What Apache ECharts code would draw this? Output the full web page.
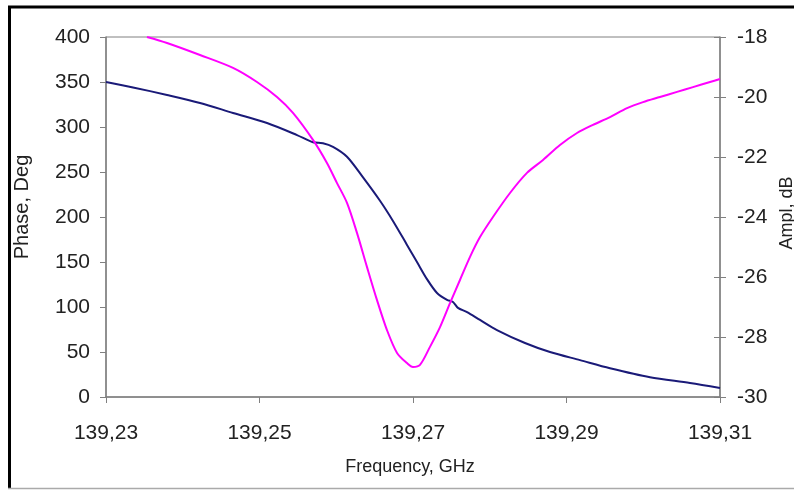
<!DOCTYPE html>
<html>
<head>
<meta charset="utf-8">
<script src="https://cdn.jsdelivr.net/npm/echarts@6/dist/echarts.min.js"></script>
<style>html,body{margin:0;padding:0;background:#fff;}#c{width:794px;height:490px;}</style>
</head>
<body>
<div id="c"></div>
<script>
// Phase (left axis), Deg
const freqPhase = [139.23000,139.23352,139.23795,139.24225,139.24655,139.25098,139.25489,139.25697,139.25827,139.25958,139.26140,139.26349,139.26570,139.26739,139.26922,139.27052,139.27182,139.27313,139.27443,139.27521,139.27586,139.27704,139.27873,139.28094,139.28459,139.28785,139.29176,139.29567,139.30088,139.30609,139.31000];
const phaseDeg  = [350,344,335.6,326.7,315.6,304.4,291,283,282,278,267,244,218,195.6,169,150,131,115.6,108,105.6,99,94.4,85.6,74.4,60,50,41,32,22,15.6,10];
// Amplitude (right axis), dB
const freqAmpl = [139.23534,139.23795,139.24225,139.24655,139.24967,139.25228,139.25436,139.25697,139.25879,139.26010,139.26140,139.26270,139.26401,139.26531,139.26661,139.26792,139.26922,139.27000,139.27091,139.27221,139.27352,139.27482,139.27612,139.27743,139.27873,139.28042,139.28264,139.28485,139.28694,139.28915,139.29137,139.29345,139.29567,139.29789,139.29997,139.30218,139.30440,139.30648,139.30870,139.31000];
const amplDb   = [-18.0,-18.2,-18.6,-19.03,-19.5,-20.0,-20.53,-21.43,-22.2,-22.87,-23.53,-24.53,-25.67,-26.77,-27.77,-28.53,-28.87,-29.0,-28.93,-28.33,-27.67,-26.87,-26.1,-25.33,-24.67,-24.0,-23.2,-22.53,-22.1,-21.6,-21.2,-20.93,-20.67,-20.37,-20.17,-20.0,-19.83,-19.67,-19.5,-19.4];
// Tick labels
const freqTicks = [139.23,139.25,139.27,139.29,139.31];
const phaseTicks = [0,50,100,150,200,250,300,350,400];
const amplTicks = [-30,-28,-26,-24,-22,-20,-18];

const chart = echarts.init(document.getElementById('c'));
const font = '"Liberation Sans", Arial, sans-serif';
const axisGrey = '#808080';
const labelStyle = {color:'#222', fontFamily:font, fontSize:21};

chart.setOption({
  animation:false,
  backgroundColor:'#fff',
  grid:{left:106,right:74,top:37,bottom:93,outerBoundsMode:'none',containLabel:false,show:true,borderColor:axisGrey,borderWidth:1,backgroundColor:'#fff'},
  xAxis:{
    type:'value', min:freqTicks[0], max:freqTicks[freqTicks.length-1],
    name:'Frequency, GHz', nameLocation:'middle', nameGap:61,
    nameTextStyle:{color:'#222',fontFamily:font,fontSize:18,padding:[0,6,0,0]},
    axisLine:{lineStyle:{color:axisGrey,width:1.5}},
    axisTick:{customValues:freqTicks,length:6,lineStyle:{color:axisGrey}},
    axisLabel:Object.assign({customValues:freqTicks,margin:26,formatter:v=>v.toFixed(2).replace('.',',')},labelStyle),
    splitLine:{show:false}
  },
  yAxis:[
    {type:'value',position:'left',min:phaseTicks[0],max:phaseTicks[phaseTicks.length-1],interval:50,
     name:'Phase, Deg',nameLocation:'middle',nameGap:74,nameRotate:90,
     nameTextStyle:{color:'#222',fontFamily:font,fontSize:20,padding:[0,0,0,20]},
     axisLine:{show:true,lineStyle:{color:axisGrey,width:1.5}},
     axisTick:{show:true,length:6,lineStyle:{color:axisGrey}},
     axisLabel:Object.assign({margin:16},labelStyle),
     splitLine:{show:false}},
    {type:'value',position:'right',min:amplTicks[0],max:amplTicks[amplTicks.length-1],interval:2,
     name:'Ampl, dB',nameLocation:'middle',nameGap:58,nameRotate:90,
     nameTextStyle:{color:'#222',fontFamily:font,fontSize:18,padding:[0,0,0,8]},
     axisLine:{show:true,lineStyle:{color:axisGrey,width:1.5}},
     axisTick:{show:true,length:6,lineStyle:{color:axisGrey}},
     axisLabel:Object.assign({margin:17},labelStyle),
     splitLine:{show:false}},
    {type:'value',position:'right',min:amplTicks[0],max:amplTicks[amplTicks.length-1],interval:2,
     axisLine:{show:false},
     axisTick:{show:true,inside:true,length:6,lineStyle:{color:axisGrey}},
     axisLabel:{show:false},splitLine:{show:false}}
  ],
  series:[
    {name:'Phase',type:'line',yAxisIndex:0,smooth:0.3,showSymbol:false,clip:true,
     lineStyle:{color:'#1a1a78',width:2},
     data:freqPhase.map((f,i)=>[f,phaseDeg[i]])},
    {name:'Ampl',type:'line',yAxisIndex:1,smooth:0.3,showSymbol:false,clip:true,
     lineStyle:{color:'#ff00ff',width:2},
     data:freqAmpl.map((f,i)=>[f,amplDb[i]])}
  ],
  graphic:[
    {type:'line',shape:{x1:9.5,y1:6,x2:9.5,y2:488},style:{stroke:'#000',lineWidth:3},z:100},
    {type:'line',shape:{x1:8,y1:7,x2:794,y2:7},style:{stroke:'#000',lineWidth:3},z:100},
    {type:'line',shape:{x1:8,y1:488.5,x2:794,y2:488.5},style:{stroke:'#aaa',lineWidth:1.5},z:100}
  ]
});
</script>
</body>
</html>
